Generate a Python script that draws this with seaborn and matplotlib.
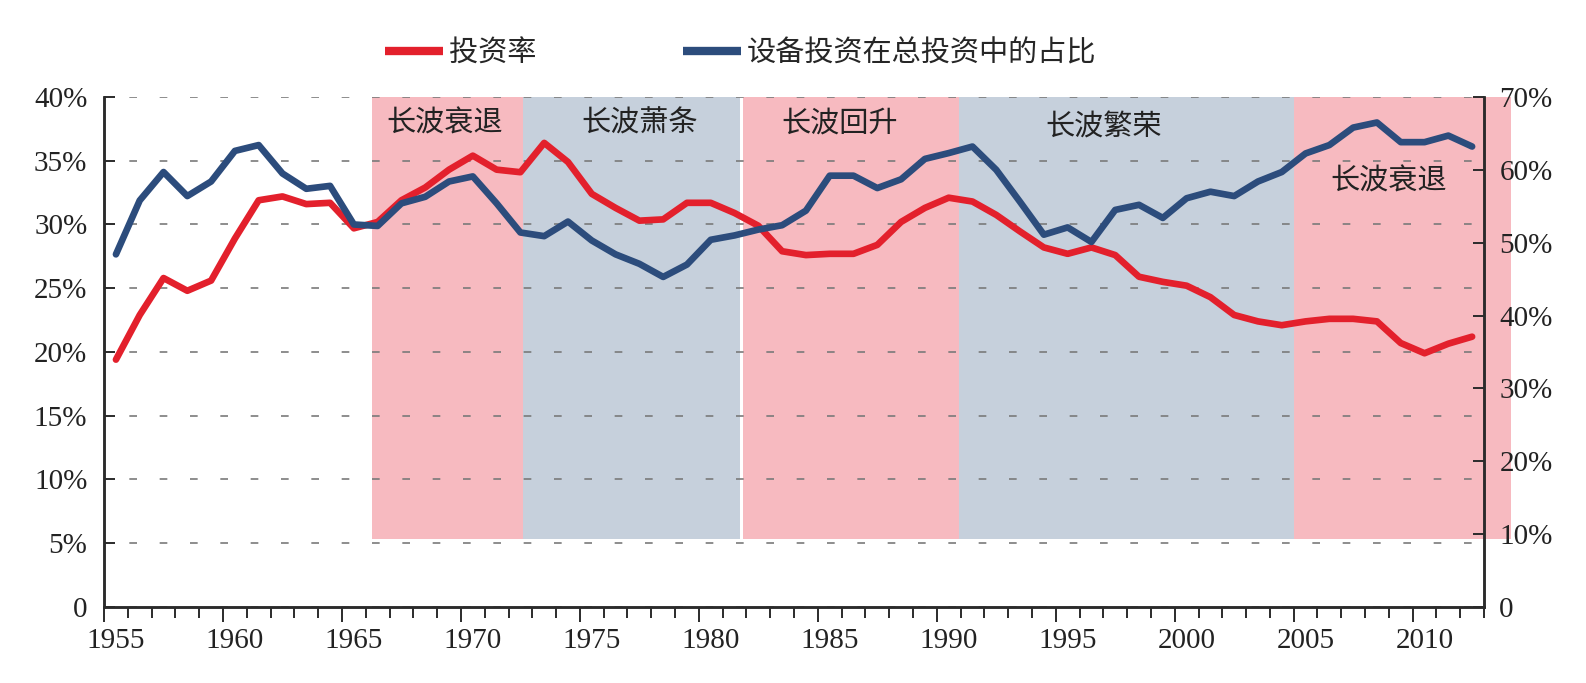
import numpy as np
import pandas as pd
import matplotlib
matplotlib.use("Agg")
import matplotlib.pyplot as plt
from matplotlib.ticker import FuncFormatter
import seaborn as sns

# data
years = list(range(1955, 2013))
invest_rate = [19.4, 22.9, 25.8, 24.8, 25.6, 28.9, 31.9, 32.2, 31.6, 31.7,
               29.7, 30.2, 31.9, 32.9, 34.3, 35.4, 34.3, 34.1, 36.4, 34.9,
               32.4, 31.3, 30.3, 30.4, 31.7, 31.7, 30.9, 29.9, 27.9, 27.6,
               27.7, 27.7, 28.4, 30.2, 31.3, 32.1, 31.8, 30.75, 29.45, 28.2,
               27.7, 28.2, 27.6, 25.9, 25.5, 25.2, 24.3, 22.9, 22.4, 22.1,
               22.4, 22.6, 22.6, 22.4, 20.7, 19.9, 20.65, 21.2]
equip_share = [48.4, 55.8, 59.7, 56.4, 58.4, 62.6, 63.4, 59.5, 57.4, 57.8,
               52.5, 52.3, 55.4, 56.3, 58.4, 59.1, 55.4, 51.4, 50.9, 52.9,
               50.3, 48.4, 47.1, 45.3, 47.0, 50.4, 51.0, 51.8, 52.4, 54.4,
               59.2, 59.2, 57.5, 58.7, 61.5, 62.3, 63.2, 60.0, 55.6, 51.1,
               52.1, 50.1, 54.5, 55.2, 53.4, 56.1, 57.0, 56.4, 58.4, 59.7,
               62.25, 63.4, 65.8, 66.5, 63.8, 63.8, 64.7, 63.2]

phase_names = ["长波衰退", "长波萧条", "长波回升", "长波繁荣", "长波衰退"]
phase_start = [1965.75, 1972.1, 1981.35, 1990.45, 2004.5]
phase_end = [1972.1, 1981.25, 1990.45, 2004.5, 2013.65]
phase_label_x = [1968.8, 1977.0, 1985.4, 1996.5, 2008.5]
phase_label_y = [37.9, 37.9, 37.9, 37.6, 33.4]

label_years = [1955, 1960, 1965, 1970, 1975, 1980, 1985, 1990, 1995, 2000, 2005, 2010]

df = pd.DataFrame({"year": years, "rate": invest_rate, "share": equip_share})

red = "#E3202C"
blue = "#2C4C7C"
pink = "#F7BAC0"
grey = "#C6D0DC"
axis_col = "#2b2b2b"
txt_col = "#222222"

sns.set_style("white")
plt.rcParams['font.family'] = ['Liberation Serif', 'Noto Sans CJK SC']

fig = plt.figure(figsize=(15.86, 6.83), dpi=100)
ax = fig.add_axes([0.0656, 0.1113, 0.8701, 0.7467])
ax2 = ax.twinx()

# shaded phases
for i in range(len(phase_names)):
    col = pink if i % 2 == 0 else grey
    ax.axvspan(phase_start[i], phase_end[i], ymin=5.35 / 40, ymax=1.0,
               color=col, lw=0, zorder=0.2, clip_on=False)
    ax.text(phase_label_x[i], phase_label_y[i], phase_names[i], fontsize=21,
            ha="center", va="center", color=txt_col,
            family=['Noto Sans CJK SC'], zorder=4)

sns.lineplot(data=df, x="year", y="rate", ax=ax, color=red, lw=4.8,
             label="投资率", zorder=3)
sns.lineplot(data=df, x="year", y="share", ax=ax2, color=blue, lw=4.8,
             label="设备投资在总投资中的占比", zorder=3)

ax.set_xlim(1954.5, 2012.5)
ax.set_ylim(0, 40)
ax2.set_ylim(0, 70)

pct = FuncFormatter(lambda v, p: "0" if v == 0 else f"{v:.0f}%")
ax.set_yticks(np.arange(0, 41, 5))
ax.yaxis.set_major_formatter(pct)
ax2.set_yticks(np.arange(0, 71, 10))
ax2.yaxis.set_major_formatter(pct)

ax.set_axisbelow(True)
ax.yaxis.grid(True, linestyle=(3, (4.6, 13.6)), color="#7a7a7a", lw=1.2)
ax.xaxis.grid(False)

# category-style ticks between years, longer every 5 years
ax.set_xticks(np.arange(1954.5, 2013, 5))
ax.set_xticks(np.arange(1954.5, 2013, 1), minor=True)
ax.tick_params(axis="x", which="major", direction="out", length=11, width=1.4,
               color=axis_col, labelbottom=False, bottom=True)
ax.tick_params(axis="x", which="minor", direction="out", length=8, width=1.4,
               color=axis_col, bottom=True)
sec = ax.secondary_xaxis("bottom")
sec.set_xticks(label_years)
sec.set_xticklabels([str(y) for y in label_years])
sec.tick_params(length=0, pad=15, labelsize=21, labelcolor=txt_col)
sec.spines["bottom"].set_visible(False)

ax.tick_params(axis="y", direction="in", length=8, width=1.4, color=axis_col,
               labelsize=21, pad=12, labelcolor=txt_col, left=True)
ax2.tick_params(axis="y", direction="in", length=8, width=1.4, color=axis_col,
                labelsize=21, pad=11, labelcolor=txt_col, right=True)

for a in (ax, ax2):
    a.set_xlabel("")
    a.set_ylabel("")
    a.spines["top"].set_visible(False)
    for s in ("left", "right", "bottom"):
        a.spines[s].set_color(axis_col)
        a.spines[s].set_linewidth(1.8)
    if a.get_legend() is not None:
        a.get_legend().remove()

h1, l1 = ax.get_legend_handles_labels()
h2, l2 = ax2.get_legend_handles_labels()
leg = fig.legend(h1 + h2, l1 + l2, loc="center", bbox_to_anchor=(0.467, 0.922),
                 ncol=2, frameon=False, handlelength=2.0,
                 handletextpad=0.2, columnspacing=5.0,
                 prop={"family": ["Noto Sans CJK SC"], "size": 21})
for line in leg.get_lines():
    line.set_linewidth(6)
    line.set_solid_capstyle("butt")

fig.savefig("out.png", dpi=100)
